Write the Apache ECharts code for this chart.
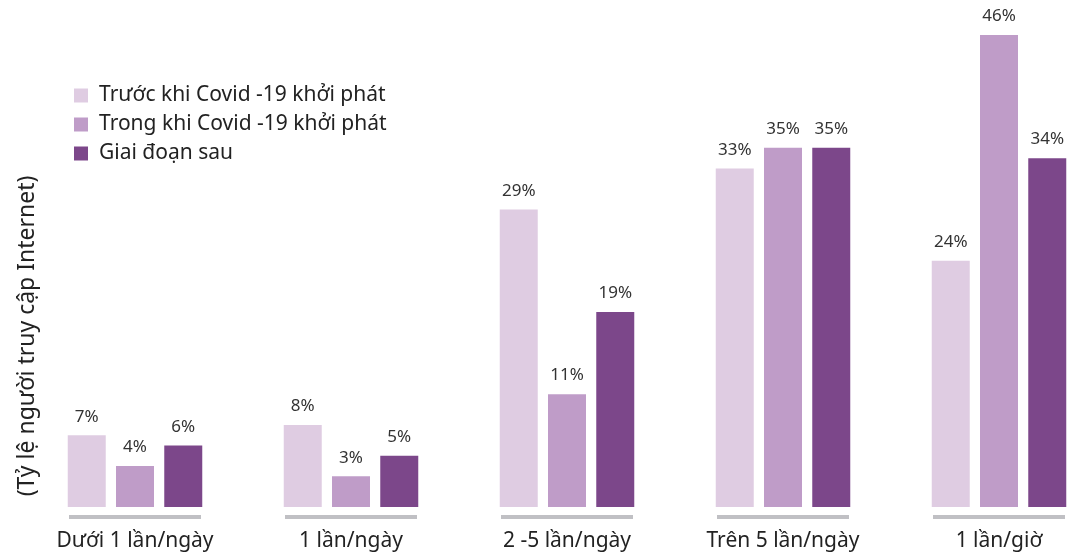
<!DOCTYPE html>
<html>
<head>
<meta charset="utf-8">
<script src="https://cdn.jsdelivr.net/npm/echarts@6/dist/echarts.min.js"></script>
<style>html,body{margin:0;padding:0;background:#fff;}#c{width:1068px;height:555px;}</style>
</head>
<body>
<div id="c"></div>
<script>
var categories = ['Dưới 1 lần/ngày', '1 lần/ngày', '2 -5 lần/ngày', 'Trên 5 lần/ngày', '1 lần/giờ'];
var seriesNames = ['Trước khi Covid -19 khởi phát', 'Trong khi Covid -19 khởi phát', 'Giai đoạn sau'];
var before = [7, 8, 29, 33, 24];
var during = [4, 3, 11, 35, 46];
var after = [6, 5, 19, 35, 34];
var yAxisTitle = '(Tỷ lệ người truy cập Internet)';

var colors = ['#dfcce2', '#bf9cc8', '#7c478a'];
var FONT = 'Noto Sans';

var chart = echarts.init(document.getElementById('c'));
function barSeries(name, data, color) {
  return {
    name: name, type: 'bar', data: data, barWidth: 38, barGap: '27%',
    itemStyle: { color: color },
    label: { show: true, position: 'top', distance: 10, formatter: '{c}%', color: '#333', fontSize: 17, fontFamily: FONT },
    emphasis: { disabled: true }
  };
}
chart.setOption({
  animation: false,
  grid: { left: 27, width: 1080, top: 35, bottom: 48, outerBoundsMode: 'none', containLabel: false },
  legend: {
    data: seriesNames, orient: 'vertical', left: 69, top: 80,
    itemWidth: 14, itemHeight: 14, itemGap: 8, icon: 'rect',
    textStyle: { fontSize: 21, color: '#222', fontFamily: FONT, padding: [0, 0, 0, 6] }
  },
  xAxis: {
    type: 'category', data: categories,
    axisLine: { show: false }, axisTick: { show: false },
    axisLabel: { margin: 24, fontSize: 21, color: '#222', fontFamily: FONT }
  },
  yAxis: {
    type: 'value', min: 0, max: 46, show: false, splitLine: { show: false }
  },
  graphic: [{
    type: 'text', x: 27, y: 336, rotation: Math.PI / 2,
    style: { text: yAxisTitle, fontSize: 23, fill: '#222', fontFamily: FONT, align: 'center', verticalAlign: 'middle' }
  }],
  series: [
    barSeries(seriesNames[0], before, colors[0]),
    barSeries(seriesNames[1], during, colors[1]),
    barSeries(seriesNames[2], after, colors[2]),
    {
      type: 'custom', silent: true, clip: false,
      data: categories.map(function (c, i) { return [i, 0]; }),
      renderItem: function (params, api) {
        var p = api.coord([api.value(0), 0]);
        return { type: 'rect', shape: { x: p[0] - 66, y: p[1] + 8, width: 132, height: 4 }, style: { fill: '#c0c0c4' } };
      }
    }
  ]
});
</script>
</body>
</html>
